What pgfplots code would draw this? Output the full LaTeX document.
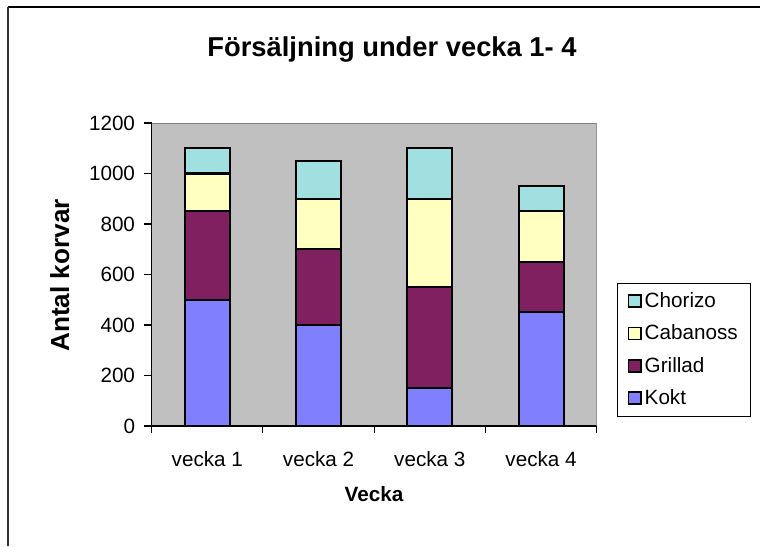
\documentclass[border=0pt]{standalone}
\usepackage{fontspec}
\setmainfont{Liberation Sans}
\usepackage{pgfplots}
\pgfplotsset{compat=1.18}
\definecolor{kokt}{HTML}{8080FF}
\definecolor{grillad}{HTML}{802060}
\definecolor{cabanoss}{HTML}{FFFFC0}
\definecolor{chorizo}{HTML}{A0E0E0}
\definecolor{plotbg}{HTML}{C0C0C0}
\definecolor{frame}{HTML}{808080}
\begin{document}
\begin{tikzpicture}[x=0.75pt,y=-0.75pt]
\useasboundingbox (0,0) rectangle (760,546);
\draw[black, line width=1.1pt] (7.5,7) -- (760,7);
\draw[black!80, line width=1.8pt] (8,7) -- (8,546);
\begin{axis}[
  at={(113.78pt,-319.5pt)}, anchor=south west,
  scale only axis, width=333.75pt, height=227.25pt,
  ybar stacked, bar width=33.75pt,
  xmin=-0.5, xmax=3.5, ymin=0, ymax=1200,
  xtick={0,1,2,3}, xticklabels={vecka 1,vecka 2,vecka 3,vecka 4},
  minor xtick={-0.5,0.5,1.5,2.5,3.5},
  ytick={0,200,...,1200},
  axis x line*=bottom, axis y line*=left,
  axis line style={-, black, line width=1pt},
  tick align=outside,
  major tick length=5.5pt, minor tick length=5pt,
  major x tick style={draw=none},
  tick style={black, line width=0.8pt},
  axis background/.style={fill=plotbg},
  ticklabel style={font=\fontsize{15.5}{18}\selectfont},
  xticklabel style={yshift=-10pt},
  yticklabel style={xshift=-3.5pt},
  /pgf/number format/assume math mode=true,
  /pgf/number format/1000 sep={},
  reverse legend,
  legend cell align=left,
  legend image code/.code={\draw[#1, line width=1.4pt] (0pt,-4.5pt) rectangle (9.5pt,4.5pt);},
  legend style={at={(1.046,0.472)}, anchor=north west, draw=black, line width=0.5pt, fill=white,
    font=\fontsize{15.5}{18}\selectfont, row sep=7.5pt, inner xsep=7.5pt, inner ysep=5pt},
]
\addplot[fill=kokt, draw=black, line width=1.6pt] coordinates {(0,500) (1,400) (2,150) (3,450)};
\addplot[fill=grillad, draw=black, line width=1.6pt] coordinates {(0,350) (1,300) (2,400) (3,200)};
\addplot[fill=cabanoss, draw=black, line width=1.6pt] coordinates {(0,150) (1,200) (2,350) (3,200)};
\addplot[fill=chorizo, draw=black, line width=1.6pt] coordinates {(0,100) (1,150) (2,200) (3,100)};
\legend{Kokt,Grillad,Cabanoss,Chorizo}
\draw[frame, line width=1.5pt] (rel axis cs:0,1) -- (rel axis cs:1,1) -- (rel axis cs:1,0);
\end{axis}
\node[anchor=base, font=\fontsize{20.5}{24}\selectfont\bfseries] at (392,56) {Försäljning under vecka 1- 4};
\node[rotate=90, anchor=base, font=\fontsize{19.6}{24}\selectfont\bfseries] at (69,275.5) {Antal korvar};
\node[anchor=base, font=\fontsize{15.5}{18}\selectfont\bfseries] at (374,501.5) {Vecka};
\end{tikzpicture}
\end{document}
